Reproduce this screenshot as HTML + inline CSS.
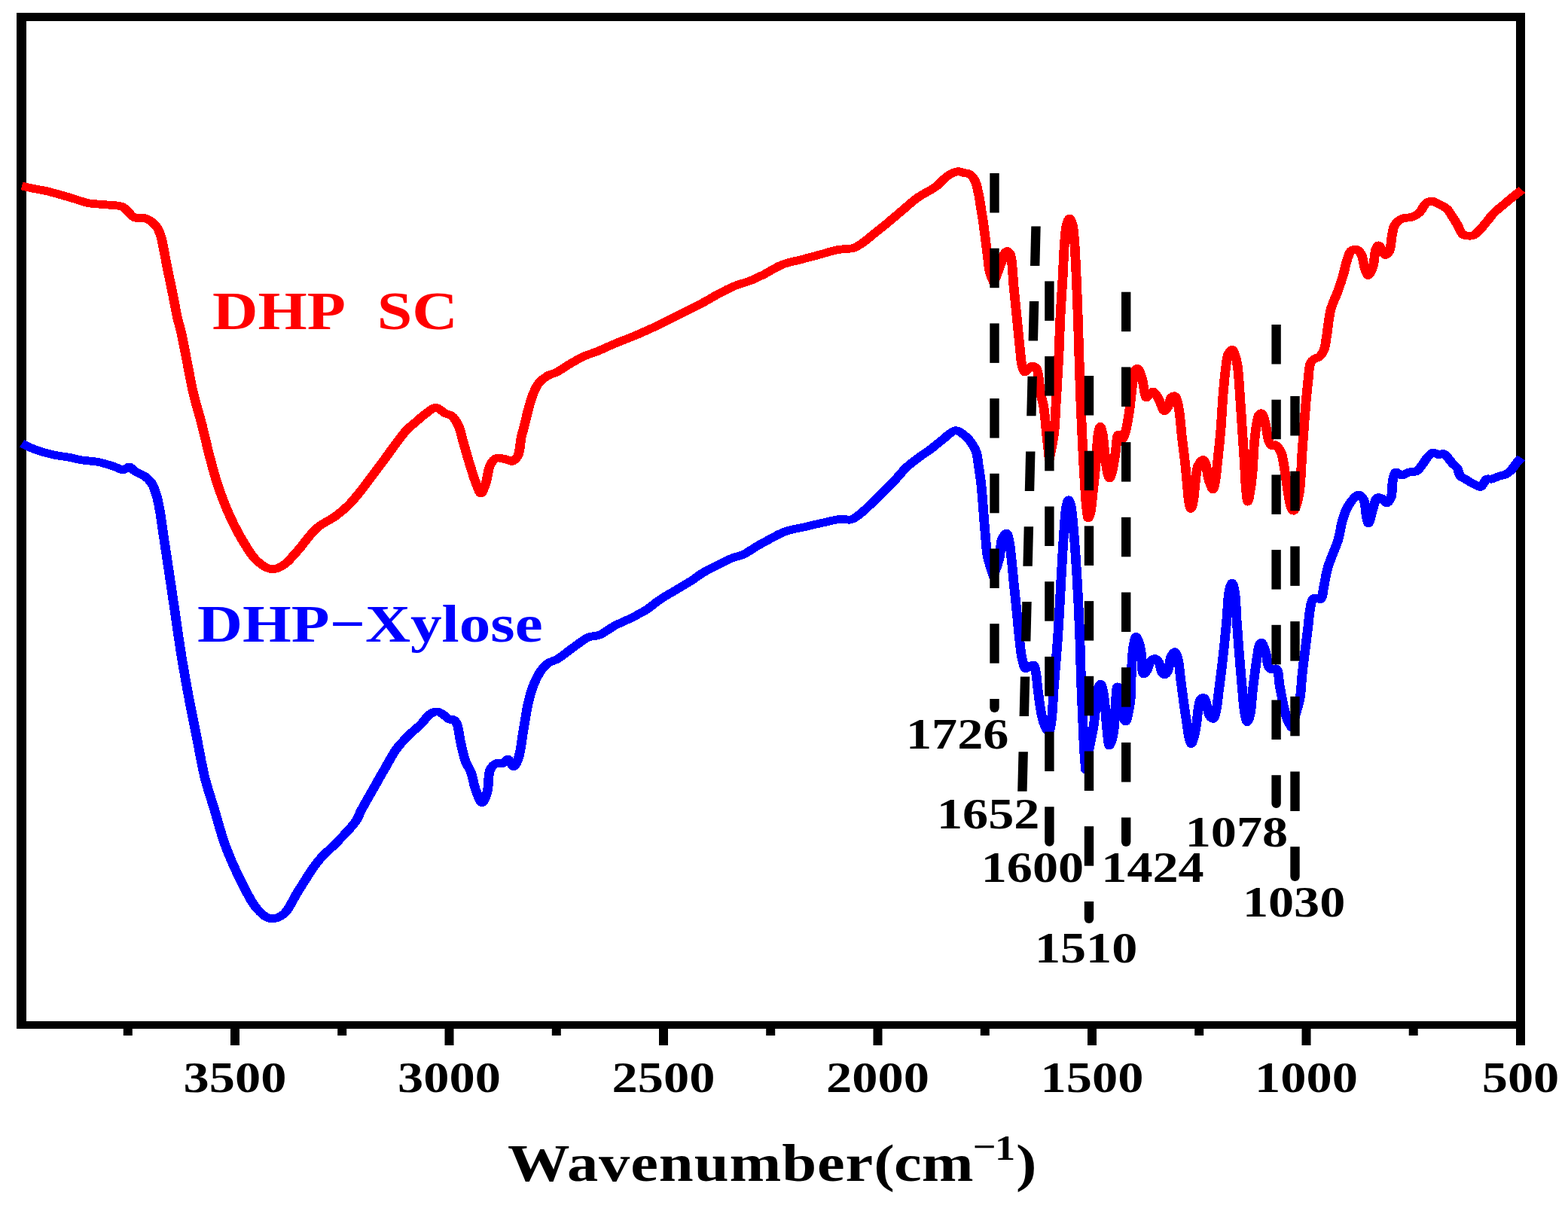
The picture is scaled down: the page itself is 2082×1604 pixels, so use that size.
<!DOCTYPE html>
<html><head><meta charset="utf-8"><title>FTIR spectra</title>
<style>
html,body{margin:0;padding:0;background:#fff;}
body{width:2082px;height:1604px;overflow:hidden;}
svg{display:block;}
text{font-family:"Liberation Serif","Times New Roman",serif;font-weight:bold;}
</style></head>
<body>
<svg width="2082" height="1604" viewBox="0 0 2082 1604">
<rect width="2082" height="1604" fill="#fff"/>
<g fill="#000">
<rect x="22" y="17" width="2003" height="11"/>
<rect x="22" y="1356" width="2003" height="10"/>
<rect x="22" y="17" width="13" height="1349"/>
<rect x="2013" y="17" width="12" height="1349"/>
<rect x="306.0" y="1360" width="12" height="28"/>
<rect x="590.5" y="1360" width="12" height="28"/>
<rect x="875.0" y="1360" width="12" height="28"/>
<rect x="1159.5" y="1360" width="12" height="28"/>
<rect x="1444.0" y="1360" width="12" height="28"/>
<rect x="1728.5" y="1360" width="12" height="28"/>
<rect x="2013.0" y="1360" width="12" height="28"/>
<rect x="163.8" y="1360" width="12" height="15"/>
<rect x="448.2" y="1360" width="12" height="15"/>
<rect x="732.8" y="1360" width="12" height="15"/>
<rect x="1017.2" y="1360" width="12" height="15"/>
<rect x="1301.8" y="1360" width="12" height="15"/>
<rect x="1586.2" y="1360" width="12" height="15"/>
<rect x="1870.7" y="1360" width="12" height="15"/>
</g>
<g transform="scale(1.18,1)" fill="none" stroke-width="10.8" stroke-linejoin="round" stroke-linecap="butt" shape-rendering="crispEdges">
<path stroke="#ff0000" d="M24.58,247.0C29.10,248.2 33.61,249.4 38.14,250.5C42.65,251.6 46.47,252.1 51.69,253.5C59.06,255.5 69.70,259.2 77.97,262.0C85.43,264.5 92.22,268.0 99.15,269.6C105.48,271.1 111.49,270.9 117.80,271.7C124.33,272.5 133.16,272.2 137.71,274.5C140.77,276.0 141.94,278.7 144.07,281.0C146.32,283.4 147.84,287.1 150.85,288.6C154.28,290.4 160.48,288.7 164.07,290.0C166.97,291.1 169.05,293.0 171.19,295.0C173.43,297.1 175.49,299.6 177.12,302.6C179.01,306.1 180.24,310.7 181.36,315.0C182.52,319.5 182.93,323.4 183.90,329.0C185.33,337.3 187.22,349.7 188.98,360.0C190.75,370.3 192.71,380.6 194.49,391.0C196.29,401.5 198.00,413.6 199.75,422.6C201.05,429.3 202.26,433.0 203.64,440.0C205.76,450.8 208.28,467.3 210.59,481.0C212.91,494.7 214.81,508.3 217.54,522.0C220.31,535.8 224.10,549.7 227.12,563.5C230.11,577.2 232.54,590.9 235.59,604.6C238.66,618.4 241.59,632.2 245.51,645.8C249.48,659.6 254.20,674.0 259.32,687.0C264.14,699.3 269.74,711.8 275.17,722.0C279.67,730.5 283.45,738.7 288.98,744.5C293.81,749.6 300.24,755.2 305.59,755.8C310.07,756.3 314.45,753.7 318.64,750.7C324.18,746.7 328.84,739.1 334.41,732.0C341.37,723.1 348.77,709.2 356.78,701.0C363.46,694.2 371.80,690.4 377.97,685.0C383.29,680.4 387.50,676.2 391.95,671.0C396.77,665.4 401.04,659.1 405.68,652.3C410.92,644.6 416.61,635.2 421.61,627.3C426.07,620.3 430.23,613.8 434.24,607.4C437.97,601.4 441.14,595.9 444.92,590.0C448.91,583.8 453.36,576.3 457.63,571.0C461.11,566.7 464.52,563.7 468.14,560.0C471.86,556.2 475.76,551.9 479.66,548.7C483.17,545.8 486.80,541.2 490.34,541.2C493.86,541.2 497.55,546.7 500.85,548.7C503.52,550.3 506.23,550.3 508.47,552.4C511.42,555.1 513.70,559.9 515.76,565.0C518.51,571.8 519.86,581.3 522.03,590.0C524.42,599.5 527.03,610.8 529.49,620.0C531.63,628.0 533.62,636.0 535.85,642.3C537.56,647.2 539.42,655.0 541.19,655.0C542.95,655.0 544.89,647.3 546.44,642.3C548.56,635.5 549.04,623.4 551.69,617.4C553.43,613.5 555.14,609.9 558.05,608.6C561.09,607.3 566.48,609.2 569.75,610.0C572.23,610.6 574.11,612.8 576.10,612.4C578.39,611.9 580.82,609.2 582.46,606.0C585.26,600.5 585.40,586.6 586.69,580.0C587.50,575.9 588.25,573.3 588.98,570.0C589.72,566.7 590.27,563.9 591.10,560.0C592.27,554.5 593.70,546.6 595.34,540.0C597.00,533.3 598.84,525.7 601.02,520.0C602.76,515.4 604.24,511.5 606.78,508.0C609.29,504.5 612.72,501.3 616.10,499.0C619.23,496.8 622.56,496.4 626.19,494.3C631.00,491.5 636.68,486.3 642.03,482.7C647.27,479.1 652.78,475.4 657.97,472.7C662.53,470.3 666.51,469.2 671.36,466.9C677.31,464.1 684.02,460.2 690.93,456.8C698.57,453.0 707.17,449.3 715.25,445.3C723.47,441.2 731.71,436.8 739.83,432.3C748.01,427.7 756.04,422.8 764.15,418.0C772.29,413.2 780.93,408.3 788.56,403.5C795.50,399.1 801.78,394.5 808.14,390.5C813.98,386.8 819.25,383.4 825.25,380.4C831.43,377.3 838.75,375.3 844.75,372.5C850.15,369.9 854.39,367.4 859.75,364.3C866.16,360.5 873.37,354.5 880.51,351.2C887.23,348.1 894.35,346.9 901.27,344.7C908.19,342.5 915.12,340.4 922.03,338.2C928.96,336.0 936.06,333.1 942.80,331.6C948.94,330.2 955.88,331.1 960.76,329.2C964.66,327.7 966.96,325.4 970.34,322.7C974.69,319.2 979.68,314.0 984.32,309.6C988.95,305.2 993.26,301.2 998.14,296.5C1003.76,291.0 1010.22,284.4 1016.10,278.6C1021.74,273.0 1026.65,267.4 1032.71,262.3C1039.04,257.0 1047.40,252.8 1053.39,247.6C1058.74,242.9 1062.62,236.3 1067.29,232.9C1070.91,230.2 1075.07,227.9 1078.22,227.6C1080.48,227.4 1082.23,228.9 1084.24,229.4C1086.21,229.9 1088.46,229.9 1090.17,230.8C1091.87,231.7 1093.25,233.2 1094.49,235.0C1096.00,237.2 1097.20,240.3 1098.14,243.1C1099.11,246.0 1099.53,249.3 1100.17,252.4C1100.81,255.5 1101.45,258.7 1101.95,261.8C1102.44,264.9 1102.73,268.0 1103.14,271.1C1103.55,274.2 1103.98,277.4 1104.41,280.5C1104.83,283.6 1105.26,286.6 1105.68,289.8C1106.13,293.3 1106.55,296.4 1107.03,300.6C1107.70,306.4 1108.50,314.3 1109.24,321.2C1109.97,328.0 1110.65,334.9 1111.44,341.7C1112.23,348.6 1112.63,356.3 1113.98,362.3C1115.07,367.1 1117.16,371.8 1118.22,375.0C1119.17,372.2 1120.72,368.0 1122.03,364.0C1123.61,359.2 1125.58,352.7 1126.95,348.0C1128.02,344.3 1128.40,340.6 1129.66,338.0C1130.59,336.1 1131.89,333.6 1133.05,333.5C1134.02,333.4 1135.25,334.8 1136.02,336.0C1137.07,337.6 1137.39,339.7 1137.97,343.0C1139.31,350.7 1139.89,370.4 1140.85,382.3C1141.64,392.3 1142.44,400.6 1143.22,409.7C1144.00,418.9 1144.73,428.0 1145.51,437.2C1146.28,446.3 1147.05,456.0 1147.88,464.6C1148.61,472.2 1148.84,480.7 1150.17,486.0C1151.01,489.4 1152.02,493.8 1153.39,494.0C1154.58,494.2 1156.12,490.4 1157.63,489.0C1158.97,487.8 1160.45,486.0 1161.86,486.0C1163.28,486.0 1165.03,487.4 1166.10,489.0C1167.69,491.4 1167.96,495.8 1168.64,500.0C1169.54,505.5 1169.58,512.9 1170.51,519.4C1171.47,526.2 1173.32,532.2 1174.41,540.0C1175.81,550.1 1176.48,563.3 1177.54,575.0C1178.60,586.7 1179.96,601.2 1180.76,610.0C1182.08,601.5 1184.77,587.9 1186.02,576.0C1187.38,563.0 1187.58,548.6 1188.31,534.9C1189.02,521.3 1189.76,505.9 1190.34,494.0C1190.79,484.8 1191.13,479.1 1191.53,469.5C1192.09,455.8 1192.51,436.2 1193.22,419.6C1193.93,403.0 1194.96,386.6 1195.76,370.0C1196.57,353.4 1197.03,333.3 1198.05,320.0C1198.73,311.2 1199.06,303.4 1200.42,298.0C1201.27,294.6 1202.58,290.0 1203.64,290.0C1204.70,290.0 1205.96,294.6 1206.78,298.0C1208.09,303.5 1208.34,311.2 1208.98,320.0C1209.95,333.3 1210.62,353.4 1211.27,370.0C1211.92,386.6 1212.39,403.0 1212.88,419.6C1213.38,436.2 1213.79,452.7 1214.24,469.5C1214.69,486.5 1215.08,504.8 1215.59,521.0C1216.05,535.5 1216.60,548.6 1217.12,562.3C1217.64,576.0 1218.12,589.7 1218.73,603.4C1219.34,617.2 1220.07,632.6 1220.76,645.0C1221.32,655.0 1221.68,664.2 1222.46,672.0C1223.06,678.0 1223.69,687.9 1224.66,688.0C1225.36,688.1 1226.42,683.5 1227.12,680.0C1228.33,674.0 1228.78,664.2 1229.66,655.0C1230.74,643.7 1232.07,629.8 1233.05,617.0C1234.05,604.1 1234.33,587.1 1235.59,578.0C1236.29,573.0 1237.16,566.4 1238.05,566.4C1238.87,566.4 1239.93,571.9 1240.68,576.0C1241.92,582.8 1242.36,594.5 1243.31,603.4C1244.20,611.8 1244.91,622.3 1246.19,628.0C1246.88,631.1 1247.73,635.0 1248.56,635.0C1249.55,635.0 1250.77,629.0 1251.69,625.0C1253.03,619.2 1253.85,610.9 1254.92,603.4C1256.08,595.1 1256.57,577.7 1258.39,577.4C1259.36,577.2 1260.69,584.0 1261.86,584.0C1262.98,584.0 1264.23,581.0 1265.25,578.2C1267.39,572.4 1268.92,559.9 1270.34,549.8C1271.96,538.2 1272.84,523.0 1274.15,512.4C1275.12,504.6 1275.37,495.6 1277.12,492.0C1277.88,490.5 1278.98,489.1 1279.83,489.2C1280.84,489.3 1281.79,492.0 1282.63,494.0C1283.82,496.8 1284.59,500.6 1285.59,504.9C1287.04,511.2 1287.98,527.6 1290.00,528.1C1290.95,528.3 1292.01,525.3 1293.22,524.0C1294.51,522.6 1296.24,519.8 1297.54,519.9C1298.77,520.0 1299.80,522.3 1300.85,524.0C1302.19,526.1 1303.25,528.8 1304.58,531.8C1306.32,535.7 1308.28,545.4 1310.25,545.6C1311.60,545.8 1313.25,542.3 1314.41,540.0C1315.95,536.9 1316.02,530.3 1317.80,528.0C1318.86,526.6 1320.63,525.5 1321.69,525.8C1323.01,526.2 1323.76,529.3 1324.58,532.0C1325.90,536.3 1326.56,543.1 1327.37,549.8C1328.42,558.5 1328.97,569.7 1329.92,579.7C1330.86,589.7 1332.10,599.6 1333.05,609.6C1334.00,619.6 1334.79,630.0 1335.59,639.6C1336.33,648.4 1336.70,658.4 1337.71,665.0C1338.37,669.3 1339.24,675.5 1340.08,675.5C1340.93,675.5 1342.05,669.3 1342.80,665.0C1343.95,658.4 1344.20,647.7 1345.17,639.6C1346.06,632.1 1346.16,623.2 1348.31,618.0C1349.72,614.6 1352.47,610.2 1353.98,610.4C1355.39,610.6 1356.39,615.0 1357.20,618.0C1358.27,621.9 1358.13,627.4 1359.07,632.0C1360.02,636.7 1361.66,642.8 1362.88,646.0C1363.55,647.7 1364.22,649.9 1364.83,649.8C1365.77,649.7 1366.65,644.1 1367.37,640.0C1368.53,633.5 1369.02,624.3 1369.92,614.6C1371.10,601.8 1372.67,584.7 1373.73,569.7C1374.79,554.7 1375.27,539.1 1376.27,524.8C1377.19,511.8 1378.17,497.5 1379.41,487.4C1380.25,480.5 1380.51,474.1 1382.20,470.0C1383.28,467.4 1385.13,464.1 1386.36,464.2C1387.70,464.3 1388.86,468.9 1389.83,472.0C1391.14,476.2 1391.91,481.1 1392.71,487.4C1393.95,497.1 1394.44,511.8 1395.25,524.8C1396.14,539.1 1396.95,554.7 1397.80,569.7C1398.64,584.7 1399.59,600.5 1400.34,614.6C1401.01,627.1 1401.28,640.5 1402.12,650.0C1402.69,656.5 1403.37,666.2 1404.15,666.2C1404.81,666.2 1405.67,659.5 1406.36,655.0C1407.39,648.3 1408.35,639.3 1409.15,629.6C1410.22,616.8 1410.64,597.1 1411.69,584.7C1412.44,575.9 1413.26,568.4 1414.24,562.2C1414.93,557.8 1415.18,553.2 1416.53,551.0C1417.28,549.8 1418.48,548.6 1419.32,548.8C1420.57,549.1 1421.59,553.2 1422.46,556.0C1423.62,559.8 1424.10,564.9 1425.00,569.7C1426.01,575.1 1426.68,583.1 1428.22,587.0C1429.11,589.3 1430.07,591.6 1431.36,592.0C1432.39,592.4 1433.83,590.5 1434.92,590.7C1436.11,591.0 1437.13,592.6 1438.14,594.0C1439.53,596.0 1440.86,598.5 1441.95,602.0C1443.77,607.8 1444.66,617.7 1445.93,626.4C1447.39,636.4 1448.69,650.0 1450.08,658.8C1451.04,664.8 1451.63,670.6 1452.97,674.0C1453.72,675.9 1454.74,678.3 1455.59,678.2C1456.59,678.1 1457.59,674.8 1458.47,672.0C1460.05,667.1 1461.42,659.3 1462.46,650.7C1464.01,637.8 1464.31,616.6 1465.17,602.0C1465.87,590.1 1466.51,580.5 1467.20,569.7C1467.90,558.9 1468.52,548.0 1469.32,537.2C1470.13,526.4 1471.04,514.6 1472.03,504.8C1472.87,496.6 1472.81,487.0 1474.75,482.1C1475.82,479.4 1477.21,477.9 1478.90,476.5C1480.47,475.2 1482.78,475.5 1484.41,474.0C1486.62,472.0 1488.57,468.1 1489.92,464.3C1491.55,459.7 1491.65,454.6 1492.63,448.1C1494.10,438.2 1495.06,421.7 1497.54,410.8C1499.56,402.0 1502.91,395.0 1505.25,387.3C1507.49,379.9 1509.48,373.0 1511.36,365.6C1513.30,357.9 1514.78,347.9 1516.69,342.0C1517.91,338.2 1518.54,334.8 1520.51,333.0C1522.11,331.6 1524.89,330.6 1526.69,331.2C1528.83,331.9 1530.62,335.3 1532.03,338.5C1534.05,343.0 1534.30,351.7 1535.85,356.6C1536.97,360.2 1538.27,365.6 1539.66,365.6C1541.31,365.6 1543.72,357.9 1545.08,353.0C1546.81,346.8 1546.53,335.9 1548.14,331.2C1548.99,328.7 1550.08,325.8 1551.19,325.8C1552.38,325.8 1553.82,329.9 1555.08,332.0C1556.36,334.1 1557.40,338.4 1558.81,338.5C1560.20,338.6 1562.27,335.7 1563.47,333.0C1565.56,328.3 1565.36,317.6 1566.53,311.4C1567.43,306.6 1567.59,302.3 1569.49,298.7C1571.25,295.4 1573.94,292.4 1577.12,290.6C1580.51,288.7 1586.00,289.5 1589.49,287.9C1592.50,286.6 1594.79,284.9 1597.12,282.4C1600.03,279.3 1601.98,272.3 1604.83,269.8C1606.76,268.1 1608.77,267.0 1611.02,267.0C1613.78,267.1 1617.32,269.9 1620.17,271.6C1622.89,273.2 1625.49,274.5 1627.80,277.0C1630.71,280.1 1633.24,285.8 1635.42,289.7C1637.23,292.9 1638.45,295.4 1640.08,298.7C1642.01,302.6 1643.36,309.1 1646.19,311.4C1648.29,313.1 1651.58,313.2 1653.81,313.2C1655.55,313.2 1656.88,313.2 1658.47,312.3C1660.92,310.9 1663.66,307.1 1666.10,304.1C1668.76,300.8 1671.19,296.9 1673.73,293.3C1676.28,289.7 1678.42,285.9 1681.36,282.4C1684.50,278.7 1688.66,275.0 1692.12,271.6C1695.31,268.4 1698.41,265.3 1701.36,262.5C1704.01,259.9 1706.88,257.2 1708.98,255.3C1710.43,254.0 1711.78,252.8 1712.71,252.0"/>
<path stroke="#0000ff" d="M24.58,589.0C29.27,591.5 33.46,594.2 38.64,596.5C44.60,599.1 51.80,601.7 58.47,603.5C65.00,605.3 72.30,606.1 78.22,607.4C83.11,608.5 86.62,609.8 91.53,610.8C97.43,612.0 104.99,612.1 111.27,613.6C117.28,615.1 123.46,617.7 128.47,619.6C132.43,621.1 135.93,624.0 138.98,623.8C141.49,623.6 143.47,619.7 145.59,619.9C147.90,620.2 149.62,624.2 152.20,626.1C155.20,628.3 159.64,629.7 162.71,632.3C165.80,634.9 168.54,637.9 170.68,641.7C173.15,646.1 174.53,651.6 176.02,657.3C177.74,663.9 178.78,671.2 180.00,679.1C181.45,688.6 182.58,699.9 183.90,710.3C185.21,720.7 186.55,731.0 187.88,741.4C189.21,751.8 190.55,762.2 191.86,772.6C193.18,783.0 194.22,791.5 195.76,803.8C197.98,821.5 201.07,847.9 203.90,868.6C206.51,887.6 209.14,905.1 212.03,923.4C214.93,941.7 218.18,960.0 221.27,978.3C224.36,996.6 227.01,1016.1 230.59,1033.0C233.73,1047.8 237.42,1059.9 241.10,1074.3C245.13,1090.0 248.65,1107.3 253.81,1123.6C259.07,1140.2 266.09,1158.3 272.46,1173.0C277.77,1185.2 282.53,1197.8 288.73,1206.0C293.33,1212.1 298.46,1218.6 303.81,1219.6C308.58,1220.5 314.40,1217.9 318.90,1214.0C325.45,1208.3 329.21,1194.8 335.17,1184.0C342.19,1171.3 350.35,1154.5 358.47,1142.8C365.18,1133.2 372.48,1126.7 379.32,1118.2C386.41,1109.4 395.62,1098.7 400.25,1090.7C403.40,1085.3 403.93,1081.6 406.44,1076.0C409.87,1068.4 414.87,1058.3 419.24,1049.2C423.76,1039.8 428.44,1029.9 433.14,1020.4C437.74,1011.1 441.82,1001.2 447.12,993.0C452.00,985.4 458.45,978.2 463.39,972.5C467.15,968.2 470.43,965.5 473.81,961.5C477.42,957.3 480.62,950.5 484.32,947.8C486.93,945.9 489.83,944.7 492.46,945.0C495.27,945.4 498.35,948.6 500.59,950.5C502.40,952.0 503.32,954.1 505.08,955.0C506.81,955.9 509.48,954.9 511.02,956.0C512.66,957.2 513.44,959.3 514.41,962.0C516.12,966.8 516.53,975.8 517.97,983.4C519.60,992.0 521.45,1003.3 523.81,1010.8C525.54,1016.3 527.92,1019.3 529.66,1024.6C531.93,1031.5 533.06,1041.9 535.42,1049.2C537.42,1055.4 540.15,1066.0 542.37,1066.0C544.40,1066.0 546.74,1057.7 548.22,1052.0C550.32,1044.0 548.82,1028.4 551.69,1021.8C553.40,1017.9 556.01,1014.8 558.64,1013.6C560.78,1012.6 563.59,1014.4 565.68,1013.6C567.89,1012.7 569.58,1007.9 571.44,1008.1C573.68,1008.3 575.93,1017.8 577.88,1017.7C579.79,1017.6 581.56,1012.5 583.05,1008.0C585.85,999.6 587.10,982.1 588.98,969.7C590.76,958.0 592.09,945.7 594.07,935.4C595.71,926.8 597.23,919.4 599.58,912.1C601.76,905.3 604.31,898.4 607.46,892.9C610.18,888.1 613.17,883.7 616.78,880.6C620.00,877.9 623.74,877.5 627.63,874.8C632.95,871.1 639.22,864.5 645.08,859.7C650.83,855.0 656.95,848.6 662.46,846.0C666.51,844.1 670.06,845.1 674.15,843.3C679.60,840.9 685.62,834.7 691.53,831.0C697.24,827.4 703.21,824.7 708.98,821.3C714.85,817.8 720.78,814.5 726.44,810.3C732.43,805.9 737.96,799.8 743.90,795.2C749.61,790.7 755.55,787.0 761.36,782.9C767.16,778.8 773.58,774.4 778.73,770.5C783.05,767.2 785.97,764.1 790.34,761.0C795.47,757.3 801.93,753.5 807.80,750.0C813.57,746.6 819.94,742.8 825.25,740.4C829.44,738.5 833.33,738.1 836.86,736.2C840.28,734.4 843.39,731.4 846.19,729.4C848.48,727.7 849.95,726.5 852.46,724.8C856.06,722.3 861.05,719.1 865.85,716.1C871.25,712.8 876.90,708.5 883.31,705.8C890.24,702.9 898.81,701.5 906.19,699.5C913.10,697.6 919.55,695.7 926.27,694.0C932.97,692.3 940.73,689.7 946.44,689.2C950.56,688.9 953.88,690.9 957.20,690.0C960.62,689.1 963.36,686.4 966.61,683.6C970.87,680.0 975.59,674.3 980.00,669.4C984.55,664.3 988.99,658.8 993.47,653.5C997.94,648.2 1002.46,643.2 1006.86,637.7C1011.42,632.1 1015.64,625.4 1020.34,620.2C1024.63,615.5 1029.19,611.6 1033.73,607.6C1038.15,603.7 1042.79,600.4 1047.20,596.5C1051.75,592.5 1056.09,587.9 1060.59,583.8C1065.04,579.7 1070.58,572.9 1074.07,571.9C1075.82,571.4 1077.03,571.9 1078.56,572.6C1080.57,573.5 1082.85,575.7 1084.75,577.5C1086.60,579.2 1088.30,581.0 1089.83,583.0C1091.43,585.1 1092.72,587.4 1094.07,590.0C1095.62,593.0 1097.33,596.0 1098.47,600.0C1100.03,605.4 1100.47,613.3 1101.36,620.0C1102.25,626.7 1103.13,633.2 1103.81,640.0C1104.53,647.2 1104.98,654.7 1105.51,662.0C1106.03,669.2 1106.44,675.9 1106.95,683.5C1107.53,692.1 1108.11,701.8 1108.81,711.0C1109.52,720.1 1109.69,729.4 1111.19,738.4C1112.68,747.4 1116.14,758.4 1117.80,765.0C1118.96,761.2 1121.20,754.7 1122.46,750.0C1123.55,745.9 1124.34,742.9 1125.08,738.4C1126.12,732.2 1125.50,721.4 1127.46,716.0C1128.72,712.5 1131.41,708.0 1132.71,708.2C1133.92,708.4 1134.47,712.8 1135.17,716.0C1136.28,721.1 1136.83,728.4 1137.63,736.1C1138.71,746.6 1139.70,761.0 1140.76,773.5C1141.82,786.0 1142.92,798.5 1143.98,811.0C1145.04,823.5 1145.96,836.9 1147.12,848.4C1148.11,858.3 1148.74,868.8 1150.34,876.0C1151.40,880.8 1152.38,887.0 1154.24,887.7C1155.42,888.1 1157.01,885.8 1158.47,885.0C1159.92,884.2 1161.83,882.5 1162.97,883.0C1164.62,883.8 1164.95,889.0 1165.68,893.0C1166.71,898.7 1166.82,905.9 1167.71,913.9C1168.91,924.6 1170.57,942.0 1172.46,951.3C1173.61,957.0 1174.73,961.4 1176.27,965.0C1177.40,967.7 1179.04,971.7 1180.08,971.5C1181.50,971.3 1182.24,963.8 1183.05,958.0C1184.50,947.6 1184.71,930.9 1185.76,914.4C1187.14,892.8 1189.27,864.5 1190.68,839.6C1192.09,814.6 1193.06,788.5 1194.24,764.7C1195.31,743.0 1196.39,719.0 1197.46,702.4C1198.17,691.4 1198.46,682.1 1199.58,675.0C1200.30,670.4 1201.29,663.7 1202.29,663.7C1203.15,663.7 1204.30,668.3 1205.08,672.0C1206.55,678.9 1207.04,690.5 1207.97,702.4C1209.30,719.5 1210.66,743.0 1211.78,764.7C1213.01,788.5 1214.12,816.0 1214.92,839.6C1215.63,860.8 1215.82,879.5 1216.44,900.0C1217.08,921.2 1218.06,946.9 1218.73,964.7C1219.20,977.2 1219.48,986.5 1220.00,996.5C1220.46,1005.5 1221.21,1015.6 1221.61,1022.0C1222.56,1015.2 1223.99,1004.2 1225.42,995.0C1226.94,985.2 1229.12,975.2 1230.51,964.7C1231.99,953.5 1232.84,939.5 1233.90,930.0C1234.64,923.3 1234.85,916.8 1236.02,913.0C1236.67,910.9 1237.66,908.2 1238.39,908.3C1239.24,908.4 1240.02,912.2 1240.68,915.0C1241.73,919.5 1242.33,925.9 1243.05,933.0C1244.09,943.1 1244.72,959.6 1245.76,970.0C1246.53,977.7 1247.05,989.9 1248.31,990.0C1249.12,990.1 1250.45,985.2 1251.27,982.0C1252.45,977.4 1253.15,971.5 1253.81,964.7C1254.75,955.1 1254.80,939.7 1255.51,930.0C1256.02,923.0 1256.41,911.9 1257.29,911.8C1258.04,911.8 1259.34,920.0 1260.17,925.0C1261.25,931.6 1261.21,942.0 1262.71,948.0C1263.74,952.1 1265.54,958.1 1266.69,958.0C1267.98,957.9 1269.03,949.7 1269.92,945.0C1270.96,939.4 1271.73,933.8 1272.29,926.6C1273.05,916.7 1272.68,902.6 1273.22,891.0C1273.74,879.8 1274.19,866.3 1275.42,858.0C1276.19,852.8 1277.12,845.6 1278.31,845.5C1279.19,845.4 1280.51,849.4 1281.36,852.0C1282.51,855.5 1283.13,859.8 1283.90,865.0C1285.05,872.9 1284.54,894.3 1286.78,895.0C1287.81,895.3 1289.50,892.1 1290.68,890.0C1292.34,887.0 1292.93,880.6 1294.92,878.0C1296.28,876.2 1298.33,874.3 1299.83,874.5C1301.46,874.7 1303.04,877.6 1304.24,880.0C1305.89,883.3 1305.98,890.4 1307.63,893.0C1308.56,894.5 1309.91,896.0 1310.93,895.8C1312.21,895.6 1313.43,892.6 1314.41,890.0C1316.02,885.8 1316.05,876.4 1317.80,872.0C1318.92,869.2 1320.74,865.5 1321.95,865.6C1323.34,865.8 1324.46,871.0 1325.42,875.0C1327.04,881.8 1327.51,893.0 1328.64,902.9C1329.92,914.0 1331.43,927.9 1332.71,938.5C1333.75,947.2 1334.72,954.8 1335.68,962.1C1336.52,968.5 1337.09,975.3 1338.14,980.0C1338.83,983.1 1339.66,987.6 1340.51,987.6C1341.36,987.6 1342.41,983.1 1343.22,980.0C1344.44,975.3 1345.39,968.5 1346.27,962.1C1347.27,954.8 1347.65,944.8 1348.73,938.5C1349.46,934.3 1349.75,929.8 1351.27,928.0C1352.15,927.0 1353.65,926.2 1354.58,926.6C1356.03,927.2 1356.75,931.9 1357.63,935.0C1358.69,938.8 1359.05,944.7 1360.17,948.0C1360.90,950.1 1361.64,952.0 1362.71,953.0C1363.50,953.8 1364.66,954.6 1365.42,954.3C1366.80,953.7 1367.38,949.0 1368.22,945.0C1369.71,937.8 1370.55,925.7 1371.78,914.6C1373.27,901.1 1375.03,884.7 1376.44,869.7C1377.85,854.7 1379.12,839.2 1380.25,824.8C1381.31,811.4 1381.47,795.2 1383.05,786.0C1383.95,780.8 1385.30,774.0 1386.36,774.0C1387.41,774.0 1388.60,780.8 1389.41,786.0C1390.83,795.2 1390.87,811.4 1391.69,824.8C1392.58,839.2 1393.56,854.7 1394.58,869.7C1395.59,884.7 1396.73,901.1 1397.80,914.6C1398.68,925.7 1399.18,936.9 1400.42,945.0C1401.27,950.5 1402.34,958.7 1403.47,958.7C1404.49,958.7 1405.87,952.6 1406.78,948.0C1408.36,940.0 1408.61,926.5 1409.83,914.6C1411.25,900.7 1413.50,880.1 1414.92,869.7C1415.67,864.2 1415.85,859.9 1416.95,857.0C1417.60,855.3 1418.52,853.1 1419.32,853.2C1420.35,853.3 1421.56,857.5 1422.46,860.0C1423.50,862.9 1424.27,866.1 1425.00,869.7C1425.88,874.0 1425.78,880.6 1427.12,884.0C1427.98,886.2 1428.97,888.3 1430.51,889.0C1432.01,889.6 1434.71,887.0 1436.19,888.0C1439.19,890.1 1438.67,903.0 1440.08,911.4C1441.72,921.1 1443.62,934.2 1445.42,942.6C1446.66,948.3 1447.64,952.8 1449.15,957.0C1450.39,960.4 1452.33,963.8 1453.39,966.0C1454.45,962.0 1456.20,955.8 1457.63,950.0C1459.33,943.0 1461.54,935.3 1462.80,927.0C1464.24,917.4 1464.31,906.2 1465.25,895.8C1466.20,885.4 1467.39,875.0 1468.47,864.6C1469.56,854.2 1470.80,843.1 1471.78,833.5C1472.63,825.1 1473.15,816.5 1474.07,810.0C1474.72,805.3 1475.23,800.7 1476.27,798.0C1476.87,796.4 1477.32,795.0 1478.39,794.5C1479.53,793.9 1481.63,794.9 1483.05,795.0C1484.25,795.1 1485.44,796.0 1486.36,795.3C1488.40,793.8 1488.55,784.9 1489.66,779.0C1490.98,771.9 1492.03,762.6 1493.64,755.6C1494.98,749.8 1496.45,745.7 1498.22,740.0C1500.40,733.0 1503.85,724.4 1505.85,716.5C1507.81,708.8 1508.55,700.2 1510.17,693.2C1511.51,687.4 1512.66,682.5 1514.58,677.6C1516.38,673.0 1518.58,668.3 1521.19,664.7C1523.45,661.6 1526.59,656.9 1528.90,657.0C1530.93,657.1 1533.01,660.3 1534.41,663.4C1536.74,668.5 1536.54,680.9 1537.71,686.7C1538.42,690.2 1539.03,695.0 1539.92,695.0C1541.33,695.0 1543.49,679.9 1545.34,673.7C1546.78,668.9 1547.44,662.3 1549.75,661.0C1551.23,660.1 1553.62,661.0 1555.25,662.0C1557.18,663.1 1558.57,668.1 1560.17,668.0C1561.87,667.9 1563.96,664.1 1565.17,660.8C1567.14,655.4 1566.11,643.6 1567.37,637.4C1568.23,633.2 1568.75,627.7 1570.68,627.0C1572.30,626.4 1574.98,630.9 1577.29,631.0C1579.72,631.1 1582.21,628.0 1584.92,627.1C1587.68,626.2 1591.16,627.3 1593.73,625.8C1596.83,623.9 1599.16,618.8 1601.44,615.4C1603.51,612.3 1604.93,608.8 1606.95,606.3C1608.65,604.2 1610.41,601.5 1612.46,601.1C1614.43,600.7 1616.88,603.5 1618.98,603.7C1620.87,603.8 1622.81,601.8 1624.49,602.4C1626.56,603.1 1628.32,606.7 1630.00,608.9C1631.61,611.0 1632.79,613.3 1634.41,615.4C1636.09,617.6 1638.48,619.3 1639.92,621.9C1641.53,624.8 1641.44,629.8 1643.22,632.2C1644.63,634.1 1646.90,634.8 1648.73,636.1C1650.55,637.4 1652.31,638.8 1654.15,640.0C1655.96,641.2 1657.72,642.2 1659.66,643.3C1661.74,644.4 1664.29,647.1 1666.27,646.5C1668.84,645.8 1670.35,637.5 1672.88,636.1C1674.57,635.2 1676.39,636.5 1678.39,636.1C1681.02,635.5 1684.27,633.3 1687.12,632.2C1689.74,631.2 1692.60,631.0 1694.83,629.7C1696.99,628.4 1698.55,626.7 1700.34,624.5C1702.62,621.7 1704.83,617.1 1706.95,614.1C1708.64,611.7 1710.64,609.5 1711.86,608.0"/>
</g>
<g fill="#000">
<path d="M1314.3,230.0L1326.7,230.0L1326.7,282.5L1314.3,282.5Z"/>
<path d="M1314.3,329.7L1326.7,329.7L1326.7,382.2L1314.3,382.2Z"/>
<path d="M1314.3,429.4L1326.7,429.4L1326.7,481.9L1314.3,481.9Z"/>
<path d="M1314.3,529.1L1326.7,529.1L1326.7,581.6L1314.3,581.6Z"/>
<path d="M1314.3,628.8L1326.7,628.8L1326.7,681.3L1314.3,681.3Z"/>
<path d="M1314.3,728.5L1326.7,728.5L1326.7,781.0L1314.3,781.0Z"/>
<path d="M1314.3,828.2L1326.7,828.2L1326.7,880.7L1314.3,880.7Z"/>
<path d="M1314.3,927.9L1326.7,927.9L1326.7,939.8A6.2,6.2 0 0 1 1314.3,939.8Z"/>
<path d="M1369.3,300.4L1381.7,300.4L1380.4,352.9L1368.0,352.9Z"/>
<path d="M1366.9,400.1L1379.3,400.1L1378.0,452.6L1365.6,452.6Z"/>
<path d="M1364.5,499.8L1376.9,499.8L1375.6,552.3L1363.2,552.3Z"/>
<path d="M1362.1,599.5L1374.5,599.5L1373.2,652.0L1360.8,652.0Z"/>
<path d="M1359.7,699.2L1372.1,699.2L1370.8,751.7L1358.4,751.7Z"/>
<path d="M1357.3,798.9L1369.7,798.9L1368.4,851.4L1356.0,851.4Z"/>
<path d="M1354.9,898.6L1367.3,898.6L1366.0,951.1L1353.6,951.1Z"/>
<path d="M1352.5,998.3L1364.9,998.3L1363.6,1050.8L1351.2,1050.8Z"/>
<path d="M1387.2,373.4L1399.6,373.4L1399.6,425.9L1387.2,425.9Z"/>
<path d="M1387.2,473.1L1399.6,473.1L1399.6,525.6L1387.2,525.6Z"/>
<path d="M1387.2,572.8L1399.6,572.8L1399.6,625.3L1387.2,625.3Z"/>
<path d="M1387.2,672.5L1399.6,672.5L1399.6,725.0L1387.2,725.0Z"/>
<path d="M1387.2,772.2L1399.6,772.2L1399.6,824.7L1387.2,824.7Z"/>
<path d="M1387.2,871.9L1399.6,871.9L1399.6,924.4L1387.2,924.4Z"/>
<path d="M1387.2,971.6L1399.6,971.6L1399.6,1024.1L1387.2,1024.1Z"/>
<path d="M1387.2,1071.3L1399.6,1071.3L1399.6,1117.6A6.2,6.2 0 0 1 1387.2,1117.6Z"/>
<path d="M1439.8,499.0L1452.2,499.0L1452.2,551.5L1439.8,551.5Z"/>
<path d="M1439.8,598.7L1452.2,598.7L1452.2,651.2L1439.8,651.2Z"/>
<path d="M1439.8,698.4L1452.2,698.4L1452.2,750.9L1439.8,750.9Z"/>
<path d="M1439.8,798.1L1452.2,798.1L1452.2,850.6L1439.8,850.6Z"/>
<path d="M1439.8,897.8L1452.2,897.8L1452.2,950.3L1439.8,950.3Z"/>
<path d="M1439.8,997.5L1452.2,997.5L1452.2,1050.0L1439.8,1050.0Z"/>
<path d="M1439.8,1097.2L1452.2,1097.2L1452.2,1149.7L1439.8,1149.7Z"/>
<path d="M1439.8,1196.9L1452.2,1196.9L1452.2,1219.8A6.2,6.2 0 0 1 1439.8,1219.8Z"/>
<path d="M1489.0,387.7L1501.4,387.7L1501.4,440.2L1489.0,440.2Z"/>
<path d="M1489.0,487.4L1501.4,487.4L1501.4,539.9L1489.0,539.9Z"/>
<path d="M1489.0,587.1L1501.4,587.1L1501.4,639.6L1489.0,639.6Z"/>
<path d="M1489.0,686.8L1501.4,686.8L1501.4,739.3L1489.0,739.3Z"/>
<path d="M1489.0,786.5L1501.4,786.5L1501.4,839.0L1489.0,839.0Z"/>
<path d="M1489.0,886.2L1501.4,886.2L1501.4,938.7L1489.0,938.7Z"/>
<path d="M1489.0,985.9L1501.4,985.9L1501.4,1038.4L1489.0,1038.4Z"/>
<path d="M1489.0,1085.6L1501.4,1085.6L1501.4,1117.8A6.2,6.2 0 0 1 1489.0,1117.8Z"/>
<path d="M1688.4,431.0L1700.8,431.0L1700.8,483.5L1688.4,483.5Z"/>
<path d="M1688.4,530.7L1700.8,530.7L1700.8,583.2L1688.4,583.2Z"/>
<path d="M1688.4,630.4L1700.8,630.4L1700.8,682.9L1688.4,682.9Z"/>
<path d="M1688.4,730.1L1700.8,730.1L1700.8,782.6L1688.4,782.6Z"/>
<path d="M1688.4,829.8L1700.8,829.8L1700.8,882.3L1688.4,882.3Z"/>
<path d="M1688.4,929.5L1700.8,929.5L1700.8,982.0L1688.4,982.0Z"/>
<path d="M1688.4,1029.2L1700.8,1029.2L1700.8,1066.8A6.2,6.2 0 0 1 1688.4,1066.8Z"/>
<path d="M1713.3,526.0L1725.7,526.0L1725.7,578.5L1713.3,578.5Z"/>
<path d="M1713.3,625.7L1725.7,625.7L1725.7,678.2L1713.3,678.2Z"/>
<path d="M1713.3,725.4L1725.7,725.4L1725.7,777.9L1713.3,777.9Z"/>
<path d="M1713.3,825.1L1725.7,825.1L1725.7,877.6L1713.3,877.6Z"/>
<path d="M1713.3,924.8L1725.7,924.8L1725.7,977.3L1713.3,977.3Z"/>
<path d="M1713.3,1024.5L1725.7,1024.5L1725.7,1077.0L1713.3,1077.0Z"/>
<path d="M1713.3,1124.2L1725.7,1124.2L1725.7,1163.8A6.2,6.2 0 0 1 1713.3,1163.8Z"/>
</g>
<g>
<text transform="translate(312.0,1449.8) scale(1.18,1)" font-size="58" fill="#000" text-anchor="middle">3500</text>
<text transform="translate(596.5,1449.8) scale(1.18,1)" font-size="58" fill="#000" text-anchor="middle">3000</text>
<text transform="translate(881.0,1449.8) scale(1.18,1)" font-size="58" fill="#000" text-anchor="middle">2500</text>
<text transform="translate(1165.5,1449.8) scale(1.18,1)" font-size="58" fill="#000" text-anchor="middle">2000</text>
<text transform="translate(1450.0,1449.8) scale(1.18,1)" font-size="58" fill="#000" text-anchor="middle">1500</text>
<text transform="translate(1734.5,1449.8) scale(1.18,1)" font-size="58" fill="#000" text-anchor="middle">1000</text>
<text transform="translate(2019.0,1449.8) scale(1.18,1)" font-size="58" fill="#000" text-anchor="middle">500</text>
<text transform="translate(674.0,1568.0) scale(1.18,1)" font-size="70" fill="#000" text-anchor="start" letter-spacing="0.76">Wavenumber(</text>
<text transform="translate(1187.0,1568.0) scale(1.18,1)" font-size="70" fill="#000" text-anchor="start">cm</text>
<text transform="translate(1291.4,1537.5) scale(1.18,1)" font-size="46" fill="#000" text-anchor="start">−</text>
<text transform="translate(1321.0,1540.0) scale(1.18,1)" font-size="46" fill="#000" text-anchor="start">1</text>
<text transform="translate(1349.0,1568.0) scale(1.18,1)" font-size="70" fill="#000" text-anchor="start">)</text>
<text transform="translate(282.0,436.8) scale(1.18,1)" font-size="71" fill="#ff0000" text-anchor="start">DHP  SC</text>
<text transform="translate(262.0,851.8) scale(1.18,1)" font-size="70.5" fill="#0000ff" text-anchor="start">DHP−Xylose</text>
<text transform="translate(1203.0,993.8) scale(1.18,1)" font-size="57.8" fill="#000" text-anchor="start">1726</text>
<text transform="translate(1244.0,1100.2) scale(1.18,1)" font-size="57.8" fill="#000" text-anchor="start">1652</text>
<text transform="translate(1302.7,1171.4) scale(1.18,1)" font-size="57.8" fill="#000" text-anchor="start">1600</text>
<text transform="translate(1462.3,1171.4) scale(1.18,1)" font-size="57.8" fill="#000" text-anchor="start">1424</text>
<text transform="translate(1573.7,1123.6) scale(1.18,1)" font-size="57.8" fill="#000" text-anchor="start">1078</text>
<text transform="translate(1649.9,1217.4) scale(1.18,1)" font-size="57.8" fill="#000" text-anchor="start">1030</text>
<text transform="translate(1373.9,1277.5) scale(1.18,1)" font-size="57.8" fill="#000" text-anchor="start">1510</text>
</g>
</svg>
</body></html>
